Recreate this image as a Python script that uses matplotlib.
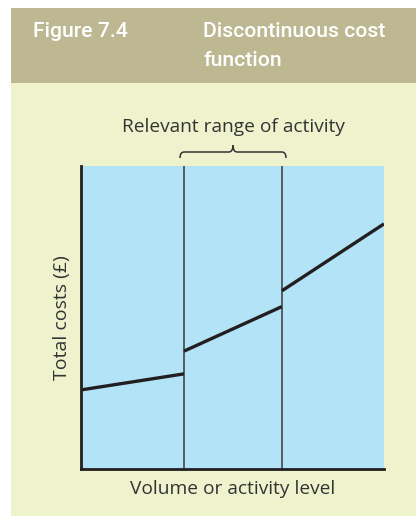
import matplotlib
matplotlib.use("Agg")
import matplotlib.pyplot as plt
from matplotlib.patches import Rectangle
from matplotlib.path import Path
from matplotlib.patches import PathPatch

plt.rcParams['font.family'] = ['Open Sans', 'DejaVu Sans']

# Data (x in arbitrary activity units 0..10, y total cost 0..100)
breaks = [3.40, 6.63]
seg_x = [[0.0, 3.40], [3.40, 6.63], [6.63, 10.0]]
seg_y = [[26.1, 31.4], [38.9, 53.6], [58.8, 80.9]]

title_num = "Figure 7.4"
title_line1 = "Discontinuous cost"
title_line2 = "function"
range_label = "Relevant range of activity"
xlabel = "Volume or activity level"
ylabel = "Total costs (£)"

W, H = 416, 517
fig = plt.figure(figsize=(W / 100, H / 100), dpi=100)
fig.patch.set_facecolor("white")

def fx(px):
    return px / W

def fy(py):
    return 1 - py / H

# cream background
fig.patches.append(Rectangle((fx(11), fy(516)), fx(416) - fx(11), fy(83) - fy(516),
                             transform=fig.transFigure, facecolor="#EFF3CD", edgecolor="none", zorder=-2))
# header band
fig.patches.append(Rectangle((fx(11), fy(83)), fx(416) - fx(11), fy(8) - fy(83),
                             transform=fig.transFigure, facecolor="#BDB891", edgecolor="none", zorder=-2))

tkw = dict(color="white", fontsize=15.3, fontweight="medium", va="baseline", ha="left",
           family=["Roboto", "DejaVu Sans"])
fig.text(fx(33), fy(37), title_num, **tkw)
fig.text(fx(203), fy(37), title_line1, **tkw)
fig.text(fx(203), fy(66), title_line2, **tkw)

ax = fig.add_axes([fx(81), fy(469), fx(384) - fx(81), fy(166) - fy(469)], zorder=2)
ax.set_facecolor("#B3E3F7")
ax.set_xlim(0, 10)
ax.set_ylim(0, 100)
for s in ["top", "right"]:
    ax.spines[s].set_visible(False)
for s in ["left", "bottom"]:
    ax.spines[s].set_linewidth(2.0)
    ax.spines[s].set_color("#231F20")
ax.set_xticks([])
ax.set_yticks([])

for b in breaks:
    ax.axvline(b, color="#3A3A3A", lw=1.1, zorder=2)

for xs, ys in zip(seg_x, seg_y):
    ax.plot(xs, ys, color="#231F20", lw=2.4, solid_capstyle="butt", zorder=3)

ax.set_xlabel(xlabel, fontsize=13.8, color="#333333", labelpad=8)
ax.set_ylabel(ylabel, fontsize=14, color="#333333", labelpad=7.5)

fig.text(fx(233), fy(127), range_label, fontsize=13.8, color="#333333", ha="center", va="center")

# brace above the relevant range
x0, x1, xm = fx(180), fx(286), fx(233)
yb, yt = fy(158), fy(145)
ymid = fy(152)
codes = [Path.MOVETO, Path.CURVE3, Path.CURVE3, Path.LINETO, Path.CURVE3, Path.CURVE3]
for xe, sgn in [(x0, 1), (x1, -1)]:
    verts = [(xe, yb), (xe, ymid), (xe + sgn * 0.01, ymid), (xm - sgn * 0.01, ymid), (xm, ymid), (xm, yt)]
    fig.patches.append(PathPatch(Path(verts, codes), transform=fig.transFigure, fill=False,
                                 edgecolor="#333333", lw=1.1))

fig.savefig("out.png", dpi=100, facecolor="white")
